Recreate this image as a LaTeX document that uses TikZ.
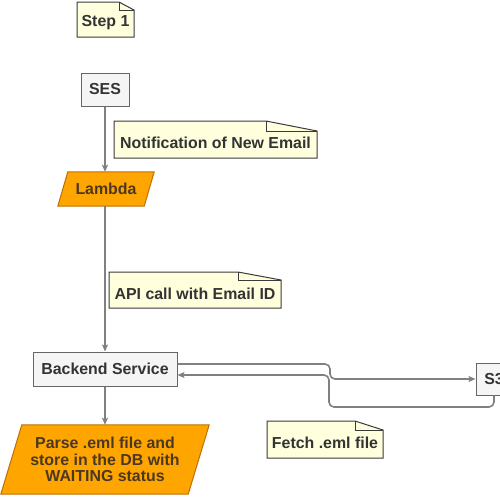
\documentclass[tikz,border=0pt]{standalone}
\usepackage{fontspec}
\setmainfont{Liberation Sans}
\usetikzlibrary{arrows.meta,backgrounds}
\definecolor{boxfill}{HTML}{F5F5F5}
\definecolor{boxline}{HTML}{666666}
\definecolor{txt}{HTML}{333333}
\definecolor{orfill}{HTML}{FFA500}
\definecolor{orline}{HTML}{BD7000}
\definecolor{ortxt}{HTML}{4A3823}
\definecolor{notefill}{HTML}{FFFFDD}
\definecolor{noteline}{HTML}{3A3A3A}
\definecolor{connc}{HTML}{808080}
\tikzset{
  lbl/.style={font=\fontsize{15.9}{16.7}\selectfont\bfseries, text=txt, inner sep=0pt, align=center},
  graybox/.style={lbl, draw=boxline, fill=boxfill, line width=1pt},
  orlbl/.style={lbl, text=ortxt},
  para/.style={draw=orline, fill=orfill, line width=1pt},
  noteshape/.style={draw=noteline, fill=notefill, line width=1pt},
  connector/.style={draw=connc, line width=1.6pt, rounded corners=5pt, -{Stealth[length=7pt,width=6pt,inset=1.5pt]}},
}
\newcommand\notebox[6]{%
  \path[noteshape] (#1,#2) -- (#3-#5,#2) -- (#3,#2+#6) -- (#3,#4) -- (#1,#4) -- cycle;
  \draw[draw=noteline, line width=1pt] (#3-#5,#2) -- (#3-#5,#2+#6) -- (#3,#2+#6);}
\begin{document}
\begin{tikzpicture}[x=1pt,y=-1pt]
\useasboundingbox (0,0) rectangle (500,496);
% notes
\notebox{77}{2}{134}{37}{15}{8}
\node[lbl] (step) at (105.5,22.5) {Step 1};
\notebox{114}{121}{317}{158}{51}{10}
\node[lbl] (notif) at (215.5,143) {Notification of New Email};
\notebox{109}{272}{281}{308}{43}{8}
\node[lbl] (api) at (195,294) {API call with Email ID};
\notebox{267}{421}{383}{458}{28}{9}
\node[lbl] (fetch) at (325,443) {Fetch .eml file};
% boxes
\node[graybox, minimum width=48pt, minimum height=33pt] (ses) at (105,89.5) {SES};
\node[orlbl, minimum width=96pt, minimum height=34pt] (lambda) at (106,189) {Lambda};
\node[graybox, minimum width=144pt, minimum height=34pt] (backend) at (105,369) {Backend Service};
\node[graybox, minimum width=36pt, minimum height=32pt] (s3) at (494,379) {S3};
\node[orlbl, minimum width=208pt, minimum height=69pt] (parse) at (105,459.5) {Parse .eml file and\\store in the DB with\\WAITING status};
\begin{scope}[on background layer]
  \draw[para] ([xshift=10pt]lambda.north west) -- (lambda.north east) -- ([xshift=-10pt]lambda.south east) -- (lambda.south west) -- cycle;
  \draw[para] ([xshift=21pt]parse.north west) -- (parse.north east) -- ([xshift=-21pt]parse.south east) -- (parse.south west) -- cycle;
\end{scope}
% connectors
\coordinate (xa) at (330,364);
\coordinate (xb) at (329,407);
\draw[connector] (ses.south) -- (ses.south |- lambda.north);
\draw[connector] (backend.north |- lambda.south) -- (backend.north);
\draw[connector] (backend.south) -- (parse.north);
\draw[connector] ([yshift=5pt]backend.east) -| (xa |- s3.west) -- (s3.west);
\draw[connector] (s3.south) |- (xb) |- ([yshift=-6pt]backend.east);
\end{tikzpicture}
\end{document}
